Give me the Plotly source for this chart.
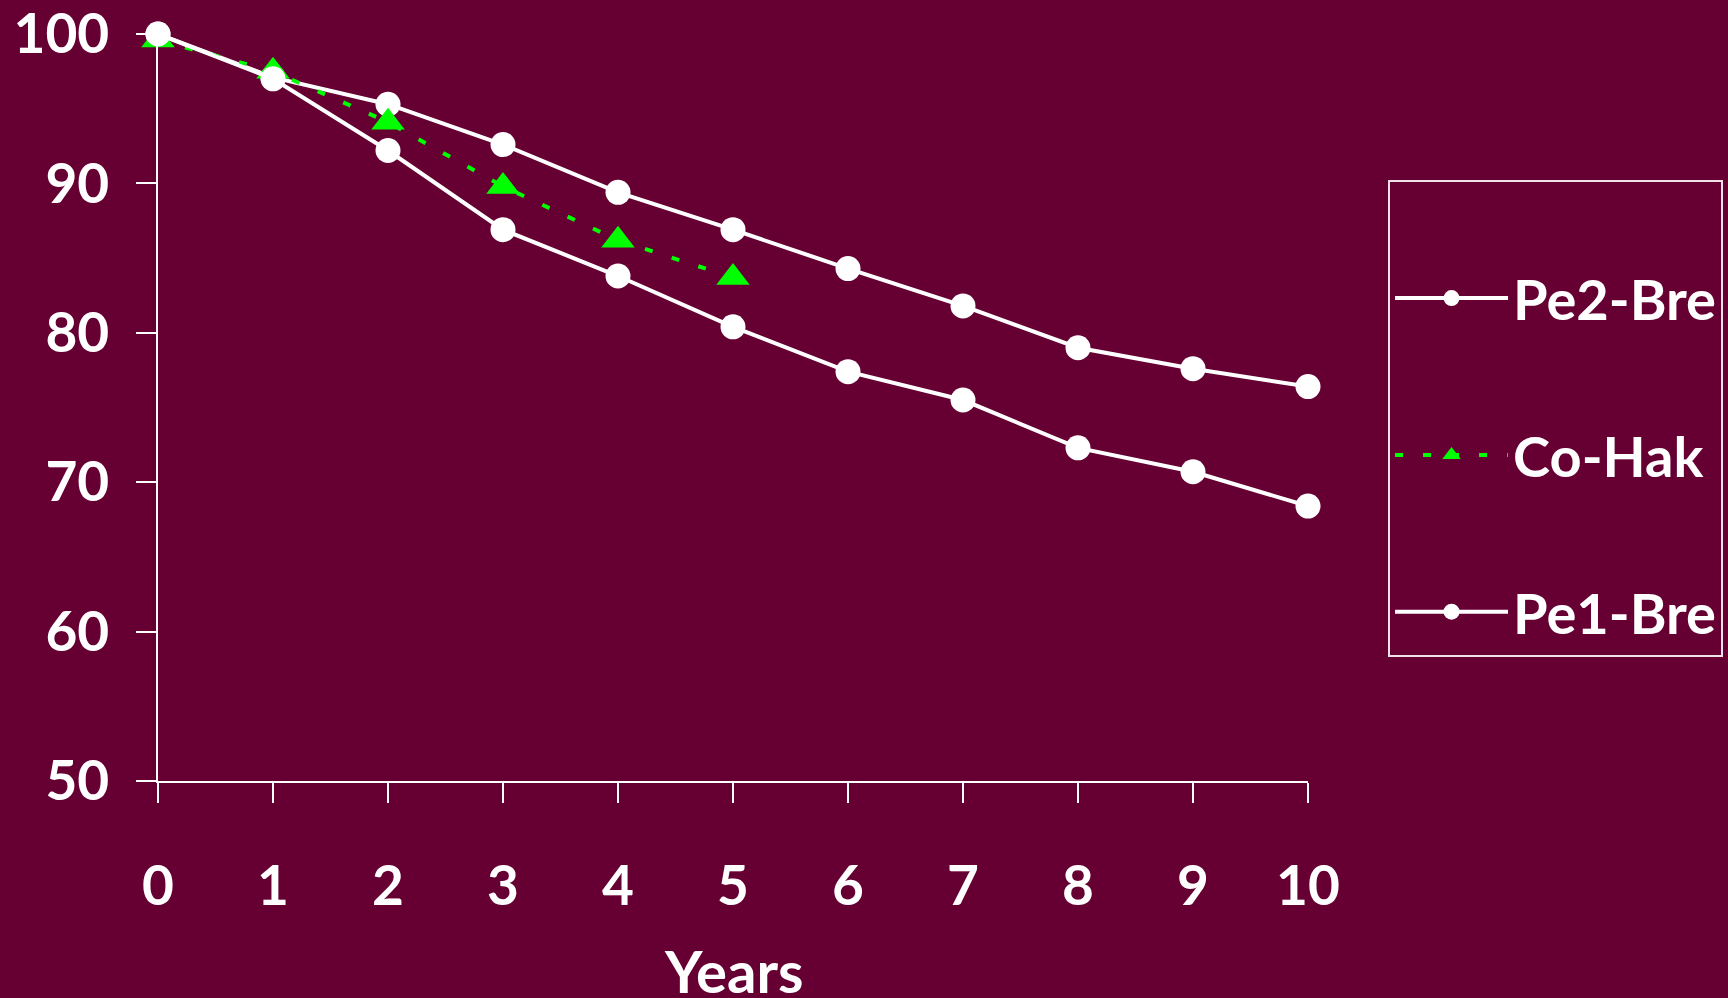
import plotly.graph_objects as go

years = [0, 1, 2, 3, 4, 5, 6, 7, 8, 9, 10]
pe2_bre = [100, 97.1, 95.3, 92.6, 89.4, 86.9, 84.3, 81.8, 79.0, 77.6, 76.4]
pe1_bre = [100, 97.0, 92.2, 86.9, 83.8, 80.4, 77.4, 75.5, 72.3, 70.7, 68.4]
co_hak_years = [0, 1, 2, 3, 4, 5]
co_hak = [99.6, 97.5, 94.1, 89.8, 86.2, 83.7]

y_ticks = [50, 60, 70, 80, 90, 100]
x_title = "Years"

BG = "#660033"
GREEN = "#00FF00"
FONT = "Comic Sans MS, Lato, sans-serif"

fig = go.Figure()
fig.add_trace(go.Scatter(
    x=years, y=pe2_bre, name="Pe2-Bre", mode="lines+markers",
    line=dict(color="white", width=4),
    marker=dict(symbol="circle", size=25, color="white"),
    cliponaxis=False, legendgroup="a"))
fig.add_trace(go.Scatter(
    x=co_hak_years, y=co_hak, name="Co-Hak", mode="lines+markers",
    line=dict(color=GREEN, width=4, dash="8px,20px"),
    marker=dict(symbol="triangle-up", size=29, color=GREEN),
    cliponaxis=False, legendgroup="b"))
fig.add_trace(go.Scatter(
    x=years, y=pe1_bre, name="Pe1-Bre", mode="lines+markers",
    line=dict(color="white", width=4),
    marker=dict(symbol="circle", size=25, color="white"),
    cliponaxis=False, legendgroup="c"))

fig.update_layout(
    width=1728, height=998,
    paper_bgcolor=BG, plot_bgcolor=BG,
    margin=dict(l=158, r=420, t=34, b=217, autoexpand=False),
    font=dict(family=FONT, color="white", size=48, weight="bold"),
    legend=dict(
        x=1.0696, y=0.804, xanchor="left", yanchor="top",
        bordercolor="#F0E0E8", borderwidth=2, bgcolor=BG,
        font=dict(size=56, family=FONT, color="white", weight="bold"),
        tracegroupgap=81, itemwidth=113,
        title=dict(text="\u00a0", font=dict(size=56, family=FONT, color="white")),
    ),
    showlegend=True,
    annotations=[dict(
        text=x_title, xref="paper", yref="paper", x=0.5, y=-0.254,
        xanchor="center", yanchor="middle", showarrow=False,
        font=dict(size=58, family=FONT, color="white", weight="bold"),
    )],
)
fig.update_xaxes(
    range=[0, 10], tickvals=years, ticktext=[str(v) for v in years],
    showline=True, linecolor="white", linewidth=1.5,
    ticks="outside", ticklen=20, tickwidth=1.5, tickcolor="white",
    showgrid=False, zeroline=False, automargin=False,
    tickfont=dict(size=55, family=FONT, color="white", weight="bold"),
    ticklabelstandoff=36, ticklabeloverflow="allow",
)
fig.update_yaxes(
    range=[50, 100], tickvals=y_ticks,
    showline=True, linecolor="white", linewidth=1.5,
    ticks="outside", ticklen=20, tickwidth=1.5, tickcolor="white",
    showgrid=False, zeroline=False, automargin=False,
    tickfont=dict(size=55, family=FONT, color="white", weight="bold"),
    ticklabelstandoff=16, ticklabeloverflow="allow",
)

fig.write_html(
    "out.html",
    config={"displayModeBar": False},
    post_script="document.body.style.margin='0';document.body.style.background='#660033';document.body.style.overflow='hidden';",
)
